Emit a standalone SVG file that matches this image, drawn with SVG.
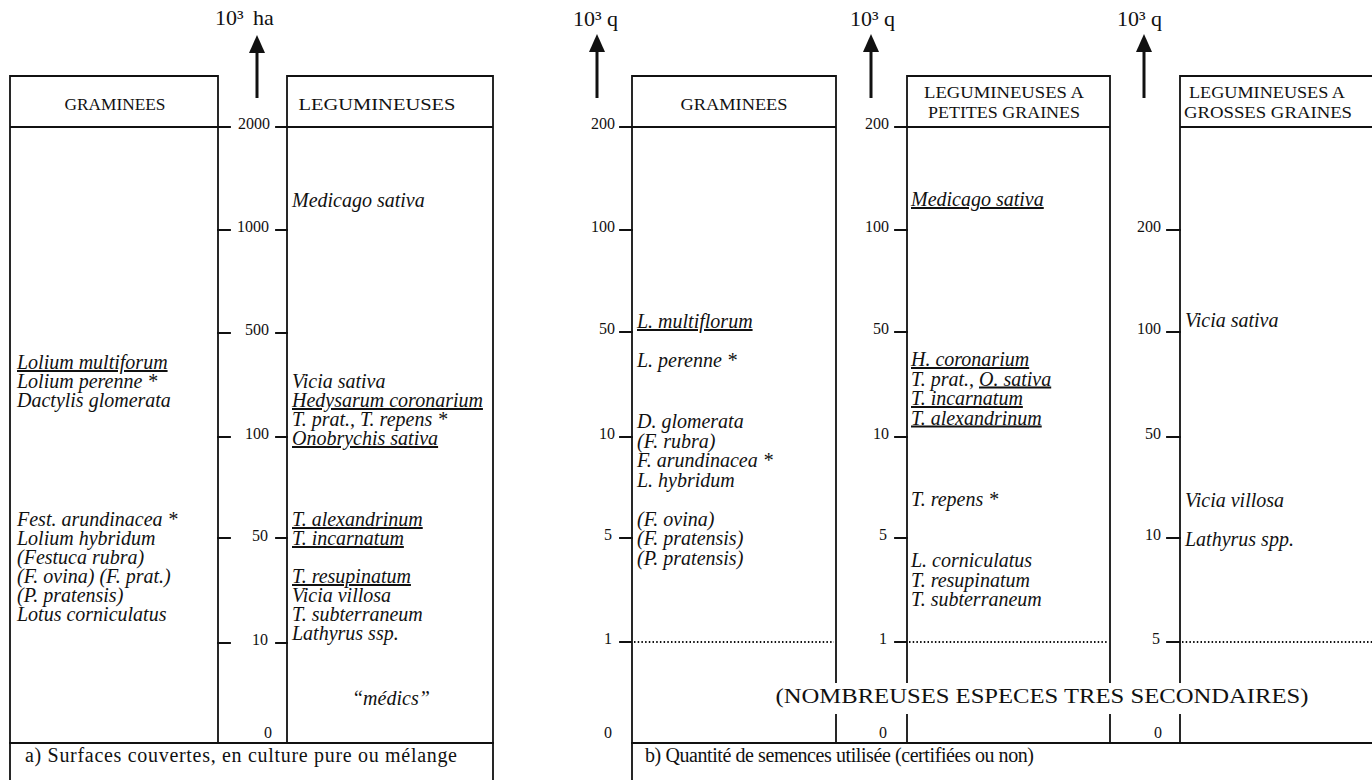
<svg xmlns="http://www.w3.org/2000/svg" width="1372" height="780" viewBox="0 0 1372 780">
<style>
  .ln{stroke:#111;stroke-width:1.8;fill:none;stroke-linecap:square}
  .dot{stroke:#111;stroke-width:1.8;fill:none;stroke-dasharray:1.5 2.2}
  .sp{font-family:"Liberation Serif",serif;font-style:italic;font-size:20px;fill:#111}
  .u{text-decoration:underline}
  .hd{font-family:"Liberation Serif",serif;font-size:17px;fill:#111;text-anchor:middle}
  .num{font-family:"Liberation Serif",serif;font-size:16px;fill:#111;text-anchor:end}
  .unit{font-family:"Liberation Serif",serif;font-size:22px;fill:#111}
  .cap{font-family:"Liberation Serif",serif;font-size:20px;fill:#111}
  .shaft{stroke:#111;stroke-width:3;fill:none}
  .head{fill:#111}
</style>
<rect width="1372" height="780" fill="#fff"/>

<!-- ============ PANEL A ============ -->
<g id="a-graminees">
  <path class="ln" d="M10,76 H218 M10,76 V780 M218,76 V743 M10,127 H230"/>
  <text class="hd" x="115" y="110" textLength="101" lengthAdjust="spacingAndGlyphs">GRAMINEES</text>
  <g class="sp">
    <text x="17" y="369" class="u">Lolium multiforum</text>
    <text x="17" y="388">Lolium perenne *</text>
    <text x="17" y="407">Dactylis glomerata</text>
    <text x="17" y="526">Fest. arundinacea *</text>
    <text x="17" y="545">Lolium hybridum</text>
    <text x="17" y="564">(Festuca rubra)</text>
    <text x="17" y="583">(F. ovina) (F. prat.)</text>
    <text x="17" y="602">(P. pratensis)</text>
    <text x="17" y="621">Lotus corniculatus</text>
  </g>
</g>

<g id="a-legumineuses">
  <path class="ln" d="M287,76 H493 M287,76 V743 M493,76 V780 M276,127 H493"/>
  <text class="hd" x="377" y="110" textLength="157" lengthAdjust="spacingAndGlyphs">LEGUMINEUSES</text>
  <g class="sp">
    <text x="292" y="207">Medicago sativa</text>
    <text x="292" y="388">Vicia sativa</text>
    <text x="292" y="407" class="u">Hedysarum coronarium</text>
    <text x="292" y="426">T. prat., T. repens *</text>
    <text x="292" y="445" class="u">Onobrychis sativa</text>
    <text x="292" y="526" class="u">T. alexandrinum</text>
    <text x="292" y="545" class="u">T. incarnatum</text>
    <text x="292" y="583" class="u">T. resupinatum</text>
    <text x="292" y="602">Vicia villosa</text>
    <text x="292" y="621">T. subterraneum</text>
    <text x="292" y="640">Lathyrus ssp.</text>
    <text x="352" y="705">“médics”</text>
  </g>
</g>

<g id="a-scale">
  <path class="ln" d="M218,230 H230 M276,230 H287 M218,333 H230 M276,333 H287 M218,437 H230 M276,437 H287 M218,538 H230 M276,538 H287 M218,643 H230 M276,643 H287"/>
  <text class="num" x="270" y="129">2000</text>
  <text class="num" x="269" y="232">1000</text>
  <text class="num" x="269" y="335">500</text>
  <text class="num" x="269" y="439">100</text>
  <text class="num" x="268" y="541">50</text>
  <text class="num" x="268" y="645">10</text>
  <text class="num" x="272" y="738">0</text>
  <text class="unit" x="215" y="25">10³<tspan x="253">ha</tspan></text>
</g>

<g id="a-footer">
  <path class="ln" d="M10,743 H493"/>
  <text class="cap" x="25" y="762" textLength="432" lengthAdjust="spacing">a) Surfaces couvertes, en culture pure ou mélange</text>
</g>

<!-- ============ PANEL B ============ -->
<g id="b-graminees">
  <path class="ln" d="M632,76 H836 M632,76 V780 M836,76 V682 M836,715 V743 M620,127 H836 M620,642 H632"/>
  <path class="dot" d="M634,642 H834"/>
  <text class="hd" x="734" y="110" textLength="107" lengthAdjust="spacingAndGlyphs">GRAMINEES</text>
  <g class="sp">
    <text x="637" y="328" class="u">L. multiflorum</text>
    <text x="637" y="367">L. perenne *</text>
    <text x="637" y="428">D. glomerata</text>
    <text x="637" y="447.5">(F. rubra)</text>
    <text x="637" y="467">F. arundinacea *</text>
    <text x="637" y="486.5">L. hybridum</text>
    <text x="637" y="525.5">(F. ovina)</text>
    <text x="637" y="545">(F. pratensis)</text>
    <text x="637" y="564.5">(P. pratensis)</text>
  </g>
</g>

<g id="b-scale-1">
  <path class="ln" d="M620,230 H632 M620,332 H632 M620,437 H632 M620,538 H632"/>
  <text class="num" x="615" y="129">200</text>
  <text class="num" x="615" y="232">100</text>
  <text class="num" x="615" y="334">50</text>
  <text class="num" x="615" y="439">10</text>
  <text class="num" x="612" y="540">5</text>
  <text class="num" x="612" y="644">1</text>
  <text class="num" x="612" y="738">0</text>
  <text class="unit" x="573" y="26">10³<tspan x="607">q</tspan></text>
</g>

<g id="b-petites">
  <path class="ln" d="M907,76 H1110 M907,76 V682 M907,715 V743 M1110,76 V682 M1110,715 V743 M895,127 H1110 M895,642 H907"/>
  <path class="dot" d="M909,642 H1108"/>
  <text class="hd" x="1004" y="98" textLength="160" lengthAdjust="spacingAndGlyphs">LEGUMINEUSES A</text>
  <text class="hd" x="1004" y="118" textLength="152" lengthAdjust="spacingAndGlyphs">PETITES GRAINES</text>
  <g class="sp">
    <text x="911" y="206" class="u">Medicago sativa</text>
    <text x="911" y="366" class="u">H. coronarium</text>
    <text x="911" y="385.5">T. prat., <tspan class="u">O. sativa</tspan></text>
    <text x="911" y="405" class="u">T. incarnatum</text>
    <text x="911" y="424.5" class="u">T. alexandrinum</text>
    <text x="911" y="506">T. repens *</text>
    <text x="911" y="567">L. corniculatus</text>
    <text x="911" y="586.5">T. resupinatum</text>
    <text x="911" y="606">T. subterraneum</text>
  </g>
</g>

<g id="b-scale-2">
  <path class="ln" d="M895,230 H907 M895,332 H907 M895,437 H907 M895,538 H907"/>
  <text class="num" x="889" y="129">200</text>
  <text class="num" x="889" y="232">100</text>
  <text class="num" x="889" y="334">50</text>
  <text class="num" x="889" y="439">10</text>
  <text class="num" x="887" y="540">5</text>
  <text class="num" x="887" y="644">1</text>
  <text class="num" x="887" y="738">0</text>
  <text class="unit" x="850" y="26">10³<tspan x="884">q</tspan></text>
</g>

<g id="b-grosses">
  <path class="ln" d="M1180,76 H1372 M1180,76 V682 M1180,715 V743 M1180,127 H1372 M1167,642 H1180"/>
  <path class="dot" d="M1182,642 H1372"/>
  <text class="hd" x="1267" y="98" textLength="156" lengthAdjust="spacingAndGlyphs">LEGUMINEUSES A</text>
  <text class="hd" x="1268" y="118" textLength="168" lengthAdjust="spacingAndGlyphs">GROSSES GRAINES</text>
  <g class="sp">
    <text x="1185" y="327">Vicia sativa</text>
    <text x="1185" y="507">Vicia villosa</text>
    <text x="1185" y="546">Lathyrus spp.</text>
  </g>
</g>

<g id="b-scale-3">
  <path class="ln" d="M1167,230 H1180 M1167,332 H1180 M1167,437 H1180 M1167,538 H1180"/>
  <text class="num" x="1161" y="232">200</text>
  <text class="num" x="1161" y="334">100</text>
  <text class="num" x="1161" y="439">50</text>
  <text class="num" x="1161" y="540">10</text>
  <text class="num" x="1160" y="644">5</text>
  <text class="num" x="1162" y="738">0</text>
  <text class="unit" x="1117" y="26">10³<tspan x="1151">q</tspan></text>
</g>

<g id="b-footer">
  <path class="ln" d="M632,743 H1372"/>
  <text class="cap" x="1042" y="703" text-anchor="middle" font-size="21" textLength="533" lengthAdjust="spacingAndGlyphs">(NOMBREUSES ESPECES TRES SECONDAIRES)</text>
  <text class="cap" x="645" y="762" textLength="389" lengthAdjust="spacing">b) Quantité de semences utilisée (certifiées ou non)</text>
</g>

<!-- axis arrows -->
<g id="connectors">
  <path class="shaft" d="M257,98 V50"/>
  <polygon class="head" points="257,35 249,53 265,53"/>
  <path class="shaft" d="M597,98 V50"/>
  <polygon class="head" points="597,34 589,52 605,52"/>
  <path class="shaft" d="M871,98 V50"/>
  <polygon class="head" points="871,34 863,52 879,52"/>
  <path class="shaft" d="M1144,98 V50"/>
  <polygon class="head" points="1144,34 1136,52 1152,52"/>
</g>
</svg>
